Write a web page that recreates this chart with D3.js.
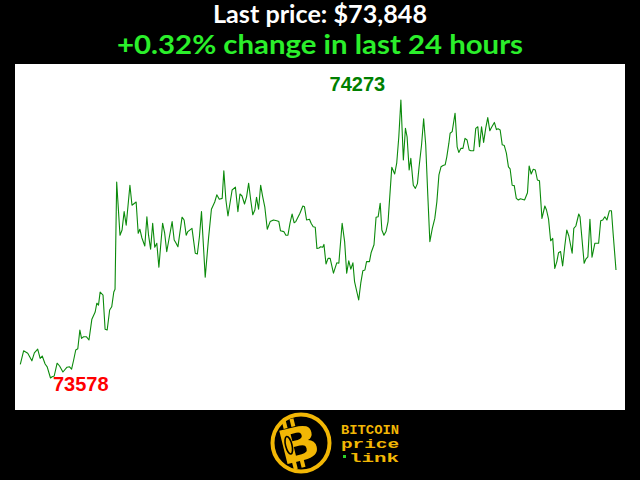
<!DOCTYPE html>
<html>
<head>
<meta charset="utf-8">
<script src="https://cdn.jsdelivr.net/npm/d3@7"></script>
<style>
html,body{margin:0;padding:0;background:#000;overflow:hidden}
</style>
</head>
<body>
<svg id="chart" width="640" height="480"></svg>
<script>
// minutes since start of the 24h window
const times = [0,8,18,28,34,42,48,53,60,65,73,77,82,89,95,103,113,119,124,129,134,139,144,148,153,160,166,173,181,185,189,193,200,205,210,216,221,226,229,233,
241,246,251,256,265,270,280,285,289,294,301,306,310,315,320,325,330,335,339,344,349,354,359,367,372,376,381,391,396,401,405,415,423,428,433,438,447,455,462,470,
475,481,488,492,497,502,512,520,526,531,536,542,547,552,557,562,567,571,576,581,586,591,597,604,612,620,625,629,637,642,647,652,657,662,666,676,683,687,692,699,703,708,713,717,722,726,731,734,
739,744,749,757,765,770,778,784,789,794,799,804,808,818,823,828,833,837,844,848,855,860,865,870,874,879,884,889,898,905,910,915,920,926,931,935,940,944,950,955,
960,964,970,975,980,985,990,996,1002,1007,1012,1017,1022,1027,1031,1036,1039,1044,1051,1056,1060,1065,1070,1075,1080,1085,1089,1096,1101,1106,1110,1115,1120,1125,1130,1135,1139,1146,1151,1155,1160,1165,1170,1175,1180,1184,1189,1194,1199,1204,1209,1213,1219,
1226,1230,1235,1240,1245,1250,1255,1261,1268,1272,1277,1282,1287,1292,1297,1301,1306,1311,1316,1321,1326,1334,1338,1343,1350,1353,1363,1367,1372,1377,1382,1389,1393,1398,1403,1408,1413,1418,1424,1429,1433,1440];

// BTC price (USD)
const prices = [73612,73646,73640,73621,73641,73650,73627,73633,73613,73606,73578,73581,73583,73615,73608,73593,73605,73606,73600,73623,73648,73651,73698,73677,73681,73681,73673,73725,73743,73765,73760,73793,73785,73700,73698,73748,73756,73793,73800,74068,
73935,73948,73994,73960,74060,74010,74018,73940,73950,73928,73908,73981,73935,73900,73965,73905,73915,73855,73905,73965,73940,73894,73923,73969,73923,73916,73906,73980,73973,73935,73944,73952,73890,73888,73931,73994,73830,73927,74000,74018,
74036,74025,74027,74096,74023,73983,74048,74055,73994,74038,74033,74013,74031,74065,74023,73986,73998,74030,74000,74060,74031,74006,73950,73969,73973,73971,73969,73946,73944,73935,73935,73965,73988,73966,73969,73990,74008,74006,73973,73975,73965,73956,73955,73902,73903,73906,73905,73912,
73863,73877,73877,73840,73866,73865,73965,73919,73840,73871,73850,73866,73819,73773,73815,73846,73848,73869,73869,73891,73911,73980,73981,74015,73948,73935,73944,73969,74105,74088,74116,74181,74273,74123,74202,74181,74098,74127,74060,74052,
74064,74106,74161,74226,74161,74036,73919,73952,73977,74019,74086,74106,74109,74111,74131,74165,74190,74194,74240,74156,74142,74152,74152,74177,74173,74148,74146,74146,74202,74206,74156,74206,74167,74202,74229,74196,74204,74217,74199,74201,74198,74161,74159,74140,74106,74101,74060,74059,74027,74023,74026,74025,74023,
74041,74108,74088,74100,74098,74073,74071,73977,74008,73998,73975,73921,73927,73852,73869,73891,73894,73858,73906,73948,73933,73890,73952,73958,73988,73981,73865,73875,73881,73975,73880,73915,73915,73915,73971,73973,73981,73973,73996,73996,73940,73848];

const lastPrice = 73848;
const changePct = "+0.32%";
const titleText = "Last price: $" + d3.format(",")(lastPrice);
const subtitleText = changePct + " change in last 24 hours";
const logoLines = ["BITCOIN", "price", "link"];

const data = times.map((t, i) => ({t, p: prices[i]}));

const svg = d3.select("#chart");
svg.append("rect").attr("width", 640).attr("height", 480).attr("fill", "#000");

// plot area
svg.append("rect").attr("x", 15).attr("y", 64).attr("width", 610).attr("height", 346).attr("fill", "#fff");

const x = d3.scaleLinear().domain([0, 1440]).range([20.3, 616]);
const minP = d3.min(prices), maxP = d3.max(prices);
const y = d3.scaleLinear().domain([minP - 80, maxP + 90]).range([410, 64]);

const line = d3.line().x(d => x(d.t)).y(d => y(d.p));
svg.append("path").datum(data)
  .attr("d", line)
  .attr("fill", "none")
  .attr("stroke", "#0b8a0b")
  .attr("stroke-width", 1.1)
  .attr("stroke-linejoin", "round");

const minD = data.find(d => d.p === minP);
const maxD = data.find(d => d.p === maxP);

svg.append("text")
  .attr("x", x(minD.t) + 2.4).attr("y", y(minD.p) + 12.7)
  .attr("font-family", "Liberation Sans, Arial, sans-serif").attr("font-weight", "bold")
  .attr("font-size", 20).attr("fill", "#ff0000")
  .text(minP);

svg.append("text")
  .attr("x", x(maxD.t) - 15.7).attr("y", y(maxD.p) - 9.3)
  .attr("text-anchor", "end")
  .attr("font-family", "Liberation Sans, Arial, sans-serif").attr("font-weight", "bold")
  .attr("font-size", 20).attr("fill", "#008000")
  .text(maxP);

// titles
svg.append("text")
  .attr("x", 320).attr("y", 23)
  .attr("text-anchor", "middle")
  .attr("font-family", "Lato, sans-serif").attr("font-weight", "bold")
  .attr("font-size", 24).attr("fill", "#fff")
  .attr("textLength", 214).attr("lengthAdjust", "spacingAndGlyphs")
  .text(titleText);

svg.append("text")
  .attr("x", 320).attr("y", 54)
  .attr("text-anchor", "middle")
  .attr("font-family", "Lato, sans-serif").attr("font-weight", "bold")
  .attr("font-size", 27.5).attr("fill", "#2bef2b")
  .attr("textLength", 406).attr("lengthAdjust", "spacingAndGlyphs")
  .text(subtitleText);

// logo
const gold = "#f2b705";
const logo = svg.append("g");
logo.append("circle").attr("cx", 301).attr("cy", 443).attr("r", 28.5).attr("fill", "#000")
  .attr("stroke", gold).attr("stroke-width", 4);
const bg = logo.append("g").attr("transform", "translate(298,445) rotate(-14)");
bg.append("rect").attr("x", -10).attr("y", -27).attr("width", 4).attr("height", 8).attr("fill", gold);
bg.append("rect").attr("x", -2).attr("y", -27).attr("width", 4).attr("height", 8).attr("fill", gold);
bg.append("rect").attr("x", -10).attr("y", 15).attr("width", 4).attr("height", 8).attr("fill", gold);
bg.append("rect").attr("x", -2).attr("y", 15).attr("width", 4).attr("height", 8).attr("fill", gold);
bg.append("text").attr("x", 0).attr("y", 0).attr("text-anchor", "middle")
  .attr("transform", "translate(1,16) scale(1.15,1)")
  .attr("font-family", "DejaVu Sans, sans-serif").attr("font-weight", "bold")
  .attr("font-size", 47).attr("fill", gold).text("B");
bg.append("ellipse").attr("cx", -9).attr("cy", -2).attr("rx", 3.2).attr("ry", 9)
  .attr("fill", "none").attr("stroke", "#000").attr("stroke-width", 1.6);

logo.selectAll("text.lg").data(logoLines).enter().append("text")
  .attr("class", "lg")
  .attr("x", (d, i) => i === 2 ? 349 : 341)
  .attr("y", (d, i) => 434 + i * 14)
  .attr("font-family", "Liberation Mono, Courier New, monospace").attr("font-weight", "bold")
  .attr("font-size", 12).attr("fill", gold)
  .attr("textLength", (d, i) => i === 0 ? 58 : (i === 1 ? 58 : 50))
  .attr("lengthAdjust", "spacingAndGlyphs")
  .text(d => d);
logo.append("rect").attr("x", 343).attr("y", 455).attr("width", 3).attr("height", 3).attr("fill", "#2bd22b");
</script>
</body>
</html>
